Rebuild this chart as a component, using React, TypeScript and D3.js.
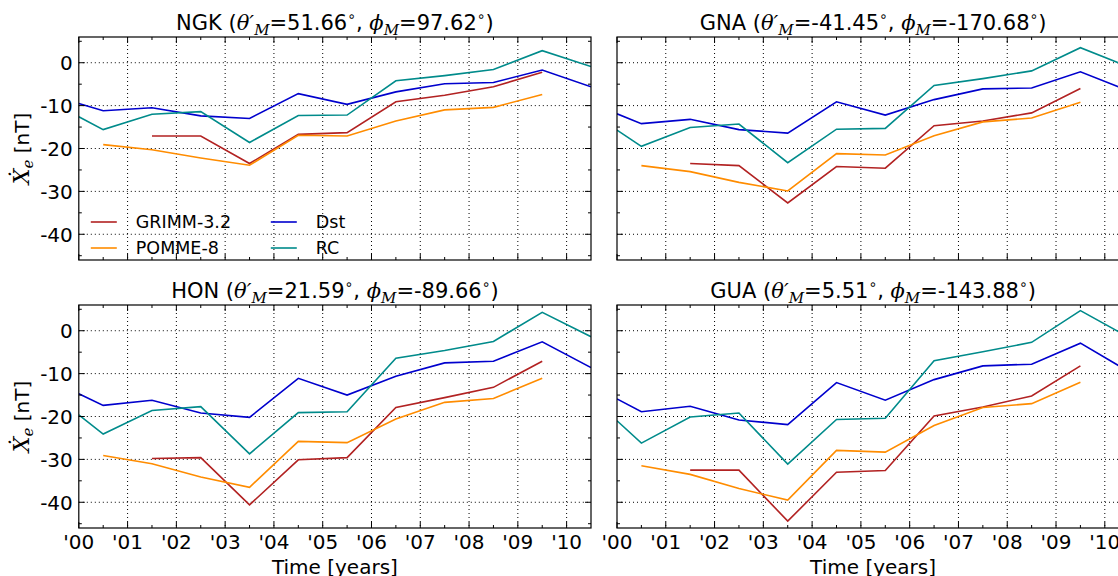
import * as d3 from "d3";
import React from "react";

// years of the samples (annual means, centred on mid-year)
const rcDstYears = [2000, 2000.5, 2001.5, 2002.5, 2003.5, 2004.5, 2005.5, 2006.5, 2007.5, 2008.5, 2009.5, 2010.5];
const pommeYears = [2000.5, 2001.5, 2002.5, 2003.5, 2004.5, 2005.5, 2006.5, 2007.5, 2008.5, 2009.5];
const grimmYears = [2001.5, 2002.5, 2003.5, 2004.5, 2005.5, 2006.5, 2007.5, 2008.5, 2009.5];

// NGK
const ngkGrimm = [-17.1, -17.1, -23.5, -16.7, -16.3, -9.1, -7.6, -5.6, -2.2];
const ngkPomme = [-19.1, -20.3, -22.2, -23.9, -16.9, -17.1, -13.6, -11.0, -10.4, -7.4];
const ngkDst = [-9.5, -11.2, -10.5, -12.4, -13.0, -7.2, -9.7, -6.8, -4.9, -4.6, -1.7, -5.6];
const ngkRc = [-12.6, -15.6, -12.0, -11.4, -18.6, -12.3, -12.2, -4.2, -3.0, -1.6, 2.8, -0.9];

// GNA
const gnaGrimm = [-23.5, -24.0, -32.7, -24.2, -24.6, -14.7, -13.6, -11.7, -6.0];
const gnaPomme = [-24.0, -25.4, -27.9, -29.9, -21.2, -21.5, -17.0, -13.8, -12.9, -9.2];
const gnaDst = [-11.9, -14.2, -13.2, -15.6, -16.4, -9.1, -12.2, -8.6, -6.1, -5.9, -2.1, -6.6];
const gnaRc = [-15.7, -19.5, -15.1, -14.3, -23.3, -15.5, -15.3, -5.3, -3.7, -1.9, 3.5, -1.0];

// HON
const honGrimm = [-29.8, -29.6, -40.6, -30.1, -29.6, -17.9, -15.6, -13.2, -7.1];
const honPomme = [-29.1, -31.0, -34.1, -36.5, -25.8, -26.1, -20.6, -16.7, -15.8, -11.1];
const honDst = [-14.7, -17.4, -16.2, -19.2, -20.2, -11.1, -15.0, -10.6, -7.5, -7.1, -2.6, -8.6];
const honRc = [-19.6, -24.1, -18.6, -17.7, -28.7, -19.1, -18.9, -6.4, -4.6, -2.5, 4.3, -1.4];

// GUA
const guaGrimm = [-32.5, -32.5, -44.4, -33.0, -32.6, -19.9, -17.8, -15.2, -8.2];
const guaPomme = [-31.5, -33.5, -36.8, -39.5, -27.9, -28.3, -22.1, -17.9, -17.0, -12.0];
const guaDst = [-15.9, -18.9, -17.6, -20.8, -21.9, -12.1, -16.2, -11.4, -8.2, -7.8, -2.9, -9.6];
const guaRc = [-21.0, -26.2, -20.1, -19.2, -31.1, -20.7, -20.4, -7.0, -4.9, -2.7, 4.7, -1.6];

const xMajor = d3.range(2000, 2011, 1);
const xMinor = d3.range(2000.5, 2010.5, 1);
const xTickLabels = ["'00", "'01", "'02", "'03", "'04", "'05", "'06", "'07", "'08", "'09", "'10"];
const yMajor = [-40, -30, -20, -10, 0];
const yMinor = [-45, -35, -25, -15, -5, 5];

const seriesNames = ["GRIMM-3.2", "POMME-8", "Dst", "RC"];
const colors = ["#b22222", "#ff8c00", "#0000cd", "#008b8b"];

const panels = [
  { code: "NGK", theta: "51.66", phi: "97.62", x0: 78.8, y0: 37, left: true, bottom: false, legend: true,
    grimm: ngkGrimm, pomme: ngkPomme, dst: ngkDst, rc: ngkRc },
  { code: "GNA", theta: "-41.45", phi: "-170.68", x0: 617, y0: 37, left: false, bottom: false, legend: false,
    grimm: gnaGrimm, pomme: gnaPomme, dst: gnaDst, rc: gnaRc },
  { code: "HON", theta: "21.59", phi: "-89.66", x0: 78.8, y0: 305, left: true, bottom: true, legend: false,
    grimm: honGrimm, pomme: honPomme, dst: honDst, rc: honRc },
  { code: "GUA", theta: "5.51", phi: "-143.88", x0: 617, y0: 305, left: false, bottom: true, legend: false,
    grimm: guaGrimm, pomme: guaPomme, dst: guaDst, rc: guaRc },
];

const pw = 512.2;
const ph = 223;
const sans = "DejaVu Sans, sans-serif";
const serif = "DejaVu Serif, serif";

const x = d3.scaleLinear([2000, 2010.5], [0, pw]);
const y = d3.scaleLinear([-46, 6], [ph, 0]);
const line = d3.line<[number, number]>().x((d) => x(d[0])).y((d) => y(d[1]));

const zip = (xs: number[], ys: number[]) => xs.map((v, i) => [v, ys[i]] as [number, number]);

const Title = ({ p }: any) => (
  <text x={p.x0 + pw / 2} y={p.y0 - 7} textAnchor="middle" fontFamily={sans} fontSize={21}>
    {p.code} (
    <tspan fontFamily={serif} fontStyle="italic">θ′</tspan>
    <tspan fontFamily={serif} fontStyle="italic" fontSize={15} dy={5}>M</tspan>
    <tspan dy={-5}>={p.theta}</tspan>
    <tspan fontSize={14} dy={-9}>∘</tspan>
    <tspan dy={9}>, </tspan>
    <tspan fontFamily={serif} fontStyle="italic">ϕ</tspan>
    <tspan fontFamily={serif} fontStyle="italic" fontSize={15} dy={5}>M</tspan>
    <tspan dy={-5}>={p.phi}</tspan>
    <tspan fontSize={14} dy={-9}>∘</tspan>
    <tspan dy={9}>)</tspan>
  </text>
);

const Panel = ({ p, idx }: any) => {
  const series = [zip(grimmYears, p.grimm), zip(pommeYears, p.pomme), zip(rcDstYears, p.dst), zip(rcDstYears, p.rc)];
  const clipId = "clip" + idx;
  return (
    <g>
      <Title p={p} />
      <g transform={`translate(${p.x0},${p.y0})`}>
        <clipPath id={clipId}>
          <rect x={0} y={0} width={pw} height={ph} />
        </clipPath>
        {/* grid */}
        {xMajor.slice(1).map((v) => (
          <line key={"gx" + v} x1={x(v)} x2={x(v)} y1={0} y2={ph} stroke="#000" strokeWidth={1} strokeDasharray="1,3" />
        ))}
        {yMajor.map((v) => (
          <line key={"gy" + v} x1={0} x2={pw} y1={y(v)} y2={y(v)} stroke="#000" strokeWidth={1} strokeDasharray="1,3" />
        ))}
        {/* series */}
        <g clipPath={`url(#${clipId})`}>
          {series.map((s, i) => (
            <path key={i} d={line(s) || ""} fill="none" stroke={colors[i]} strokeWidth={1.6} />
          ))}
        </g>
        {/* ticks, inward on all sides */}
        {xMajor.map((v) => (
          <g key={"tx" + v}>
            <line x1={x(v)} x2={x(v)} y1={ph} y2={ph - 6} stroke="#000" />
            <line x1={x(v)} x2={x(v)} y1={0} y2={6} stroke="#000" />
          </g>
        ))}
        {xMinor.map((v) => (
          <g key={"mx" + v}>
            <line x1={x(v)} x2={x(v)} y1={ph} y2={ph - 3} stroke="#000" />
            <line x1={x(v)} x2={x(v)} y1={0} y2={3} stroke="#000" />
          </g>
        ))}
        {yMajor.map((v) => (
          <g key={"ty" + v}>
            <line x1={0} x2={6} y1={y(v)} y2={y(v)} stroke="#000" />
            <line x1={pw} x2={pw - 6} y1={y(v)} y2={y(v)} stroke="#000" />
          </g>
        ))}
        {yMinor.map((v) => (
          <g key={"my" + v}>
            <line x1={0} x2={3} y1={y(v)} y2={y(v)} stroke="#000" />
            <line x1={pw} x2={pw - 3} y1={y(v)} y2={y(v)} stroke="#000" />
          </g>
        ))}
        <rect x={0} y={0} width={pw} height={ph} fill="none" stroke="#000" strokeWidth={1.2} />
        {/* tick labels */}
        {p.left &&
          yMajor.map((v) => (
            <text key={"ly" + v} x={-6} y={y(v) + 7.3} textAnchor="end" fontFamily={sans} fontSize={20}>
              {v}
            </text>
          ))}
        {p.bottom &&
          xMajor.map((v, i) => (
            <text key={"lx" + v} x={x(v)} y={ph + 21} textAnchor="middle" fontFamily={sans} fontSize={20}>
              {xTickLabels[i]}
            </text>
          ))}
        {p.bottom && (
          <text x={pw / 2} y={ph + 46} textAnchor="middle" fontFamily={sans} fontSize={20}>
            Time [years]
          </text>
        )}
        {p.left && (
          <text transform={`translate(-50,${ph / 2}) rotate(-90)`} textAnchor="middle" fontFamily={sans} fontSize={20}>
            <tspan fontFamily={serif} fontStyle="italic" fontSize={22}>Ẋ</tspan>
            <tspan fontFamily={serif} fontStyle="italic" fontSize={15} dy={4}>e</tspan>
            <tspan dy={-4}> [nT]</tspan>
          </text>
        )}
        {p.legend &&
          seriesNames.map((n, i) => {
            const col = Math.floor(i / 2);
            const row = i % 2;
            const lx = 12 + col * 180;
            const ly = 185 + row * 26;
            return (
              <g key={n}>
                <line x1={lx} x2={lx + 26} y1={ly} y2={ly} stroke={colors[i]} strokeWidth={1.6} />
                <text x={lx + 45} y={ly + 6} fontFamily={sans} fontSize={17.5}>
                  {n}
                </text>
              </g>
            );
          })}
      </g>
    </g>
  );
};

export default function App() {
  return (
    <svg
      width={1118}
      height={576}
      style={{ position: "absolute", left: 0, top: 0, display: "block", background: "#fff" }}
    >
      <rect width={1118} height={576} fill="#fff" />
      {panels.map((p, i) => (
        <Panel key={p.code} p={p} idx={i} />
      ))}
    </svg>
  );
}
